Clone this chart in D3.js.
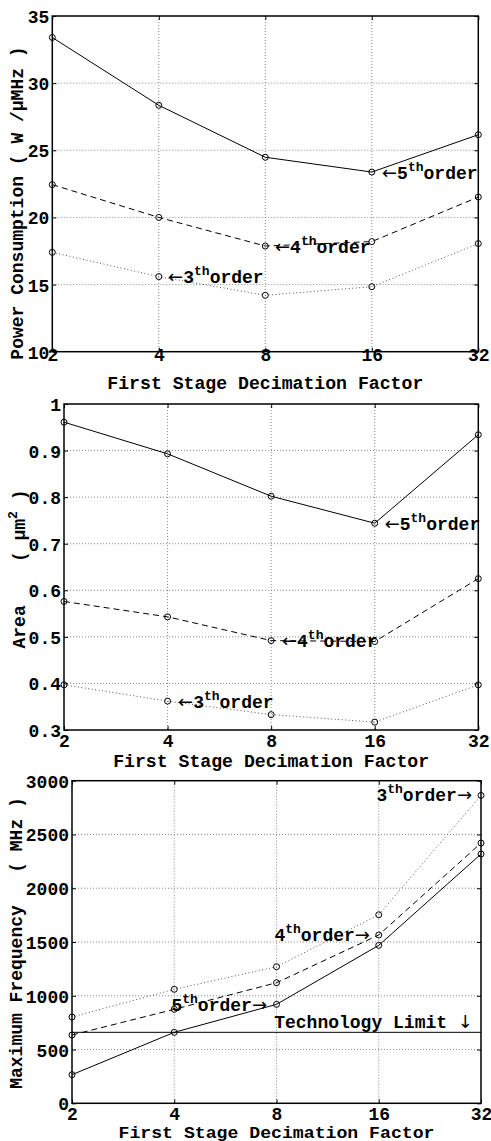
<!DOCTYPE html>
<html>
<head>
<meta charset="utf-8">
<script src="https://cdn.jsdelivr.net/npm/d3@7"></script>
<style>
  body { margin: 0; background: #fff; }
  svg { display: block; }
</style>
</head>
<body>
<script>
// decimation factors on the x axis (log2 spaced)
var factors = [2, 4, 8, 16, 32];

// power consumption
var power5 = [33.4, 28.35, 24.48, 23.38, 26.16];
var power4 = [22.44, 20.0, 17.87, 18.2, 21.52];
var power3 = [17.4, 15.59, 14.2, 14.84, 18.05];
var powerTicks = [10, 15, 20, 25, 30, 35];

// area
var area5 = [0.961, 0.893, 0.802, 0.744, 0.934];
var area4 = [0.576, 0.543, 0.492, 0.490, 0.625];
var area3 = [0.397, 0.362, 0.333, 0.317, 0.397];
var areaTicks = [0.3, 0.4, 0.5, 0.6, 0.7, 0.8, 0.9, 1];

// maximum frequency
var freq5 = [266, 660, 920, 1469, 2318];
var freq4 = [635, 874, 1121, 1565, 2420];
var freq3 = [802, 1060, 1270, 1753, 2863];
var freqTicks = [0, 500, 1000, 1500, 2000, 2500, 3000];
var techLimit = 660;

// annotation anchors in data units (like matlab text(x,y,...))
var powerNotes = [{n: "5", x: 17.1, y: 22.86}, {n: "4", x: 8.52, y: 17.35}, {n: "3", x: 4.25, y: 15.12}];
var areaNotes = [{n: "5", x: 17.1, y: 0.729}, {n: "4", x: 8.6, y: 0.478}, {n: "3", x: 4.29, y: 0.347}];
var freqNotes = [{n: "3", x: 30.1, y: 2811}, {n: "4", x: 15.07, y: 1509}, {n: "5", x: 7.5, y: 858}];

var FONT = "'Liberation Mono', 'Courier New', monospace";
var ARROW_FONT = "'DejaVu Sans', sans-serif";

var svg = d3.select("body").append("svg")
    .attr("width", 491)
    .attr("height", 1141);

var styles = [
    {dash: null, color: "#000", width: 1},       // 5th order
    {dash: "6,4", color: "#000", width: 1},      // 4th order
    {dash: "1,2.5", color: "#555", width: 1}     // 3th order
];

function arrow(t, ch) {
    t.append("tspan")
        .attr("font-family", ARROW_FONT)
        .attr("font-weight", "normal")
        .text(ch);
}

function drawPanel(p) {
    var x = d3.scaleLog().base(2)
        .domain([2, 32])
        .range([p.left, p.right]);
    var y = d3.scaleLinear()
        .domain([p.yTicks[0], p.yTicks[p.yTicks.length - 1]])
        .range([p.bottom, p.top]);

    var g = svg.append("g");

    // dotted grid
    g.append("g").selectAll("line")
        .data(factors.slice(1, -1))
        .enter().append("line")
            .attr("x1", function(d) { return x(d); })
            .attr("x2", function(d) { return x(d); })
            .attr("y1", p.top).attr("y2", p.bottom)
            .attr("stroke", "#888")
            .attr("stroke-dasharray", "1,2");
    g.append("g").selectAll("line")
        .data(p.yTicks.slice(1, -1))
        .enter().append("line")
            .attr("x1", p.left).attr("x2", p.right)
            .attr("y1", function(d) { return y(d); })
            .attr("y2", function(d) { return y(d); })
            .attr("stroke", "#888")
            .attr("stroke-dasharray", "1,2");

    // axes, ticks pointing inward
    var bottomAxis = g.append("g")
        .attr("transform", "translate(0," + p.bottom + ")")
        .call(d3.axisBottom(x).tickValues(factors).tickFormat(d3.format("d")).tickSize(-4).tickSizeOuter(0));
    bottomAxis.selectAll("text").attr("y", p.xTickOff).attr("dy", null);

    g.append("g")
        .attr("transform", "translate(0," + p.top + ")")
        .call(d3.axisTop(x).tickValues(factors).tickFormat("").tickSize(-4).tickSizeOuter(0));

    var leftAxis = g.append("g")
        .attr("transform", "translate(" + p.left + ",0)")
        .call(d3.axisLeft(y).tickValues(p.yTicks).tickFormat(d3.format("~g")).tickSize(-4).tickSizeOuter(0).tickPadding(3));
    leftAxis.selectAll("text").attr("dy", "0.36em");

    g.append("g")
        .attr("transform", "translate(" + p.right + ",0)")
        .call(d3.axisRight(y).tickValues(p.yTicks).tickFormat("").tickSize(-4).tickSizeOuter(0));

    g.selectAll(".domain").remove();
    g.selectAll(".tick line").attr("stroke", "#000");
    g.selectAll(".tick text").attr("fill", "#000");
    g.selectAll("g")
        .attr("font-family", FONT)
        .attr("font-size", 18)
        .attr("font-weight", "bold");
    bottomAxis.attr("font-size", p.fs);

    // box
    g.append("rect")
        .attr("x", p.left).attr("y", p.top)
        .attr("width", p.right - p.left)
        .attr("height", p.bottom - p.top)
        .attr("fill", "none")
        .attr("stroke", "#000")
        .attr("stroke-width", 1.5);

    if (p.limit != null) {
        g.append("line")
            .attr("x1", x(2)).attr("x2", x(32))
            .attr("y1", y(p.limit)).attr("y2", y(p.limit))
            .attr("stroke", "#000");
    }

    var line = d3.line()
        .x(function(d, i) { return x(factors[i]); })
        .y(function(d) { return y(d); });

    p.series.forEach(function(vals, k) {
        var s = styles[k];
        g.append("path")
            .datum(vals)
            .attr("d", line)
            .attr("fill", "none")
            .attr("stroke", s.color)
            .attr("stroke-width", s.width)
            .attr("stroke-dasharray", s.dash);
        g.append("g").selectAll("circle")
            .data(vals)
            .enter().append("circle")
                .attr("cx", function(d, i) { return x(factors[i]); })
                .attr("cy", function(d) { return y(d); })
                .attr("r", 3)
                .attr("fill", "none")
                .attr("stroke", "#000")
                .attr("stroke-width", 1);
    });

    // order labels
    p.notes.forEach(function(n) {
        var t = g.append("text")
            .attr("x", x(n.x))
            .attr("y", y(n.y))
            .attr("font-family", FONT)
            .attr("font-size", 18)
            .attr("font-weight", "bold")
            .attr("text-anchor", p.arrowRight ? "end" : "start");
        if (!p.arrowRight) arrow(t, "\u2190");
        t.append("tspan").text(n.n);
        t.append("tspan").attr("font-size", 13).attr("dy", -8).text("th");
        t.append("tspan").attr("dy", 8).text("order");
        if (p.arrowRight) arrow(t, "\u2192");
    });

    if (p.limit != null) {
        var tl = g.append("text")
            .attr("x", x(30.3))
            .attr("y", y(700))
            .attr("text-anchor", "end")
            .attr("font-family", FONT)
            .attr("font-size", 18)
            .attr("font-weight", "bold")
            .style("white-space", "pre");
        tl.append("tspan").text("Technology Limit ");
        arrow(tl, "\u2193");
    }

    // x label (same width in every panel, shorter glyphs in the last one)
    g.append("text")
        .attr("x", (p.left + p.right) / 2)
        .attr("y", p.xLabelY)
        .attr("text-anchor", "middle")
        .attr("font-family", FONT)
        .attr("font-size", p.fs)
        .attr("font-weight", "bold")
        .attr("textLength", 316)
        .attr("lengthAdjust", "spacingAndGlyphs")
        .text("First Stage Decimation Factor");

    // y label
    var yl = g.append("text")
        .attr("transform", "translate(" + p.yLabelX + "," + p.yLabelY + ")rotate(-90)")
        .attr("text-anchor", "middle")
        .attr("font-family", FONT)
        .attr("font-size", 18)
        .attr("font-weight", "bold")
        .style("white-space", "pre");
    p.yLabel.forEach(function(part) {
        var ts = yl.append("tspan").text(part.t);
        if (part.sup) ts.attr("font-size", 13).attr("dy", -8);
        if (part.down) ts.attr("dy", 8);
    });
}

drawPanel({
    left: 52.3, right: 478.3, top: 16, bottom: 351.7,
    yTicks: powerTicks, fs: 18,
    series: [power5, power4, power3],
    notes: powerNotes, arrowRight: false,
    xTickOff: 9.5, xLabelY: 389,
    yLabelX: 23, yLabelY: 203,
    yLabel: [{t: "Power Consumption ( W /\u03bcMHz )"}]
});

drawPanel({
    left: 64, right: 478.3, top: 404, bottom: 730,
    yTicks: areaTicks, fs: 18,
    series: [area5, area4, area3],
    notes: areaNotes, arrowRight: false,
    xTickOff: 17, xLabelY: 767,
    yLabelX: 25, yLabelY: 569,
    yLabel: [{t: "Area    ( \u03bcm"}, {t: "2", sup: true}, {t: " )", down: true}]
});

drawPanel({
    left: 72, right: 481, top: 780.7, bottom: 1103.3,
    yTicks: freqTicks, fs: 16,
    series: [freq5, freq4, freq3],
    notes: freqNotes, arrowRight: true,
    limit: techLimit,
    xTickOff: 16.5, xLabelY: 1137.5,
    yLabelX: 22, yLabelY: 943,
    yLabel: [{t: "Maximum Frequency   ( MHz )"}]
});
</script>
</body>
</html>
